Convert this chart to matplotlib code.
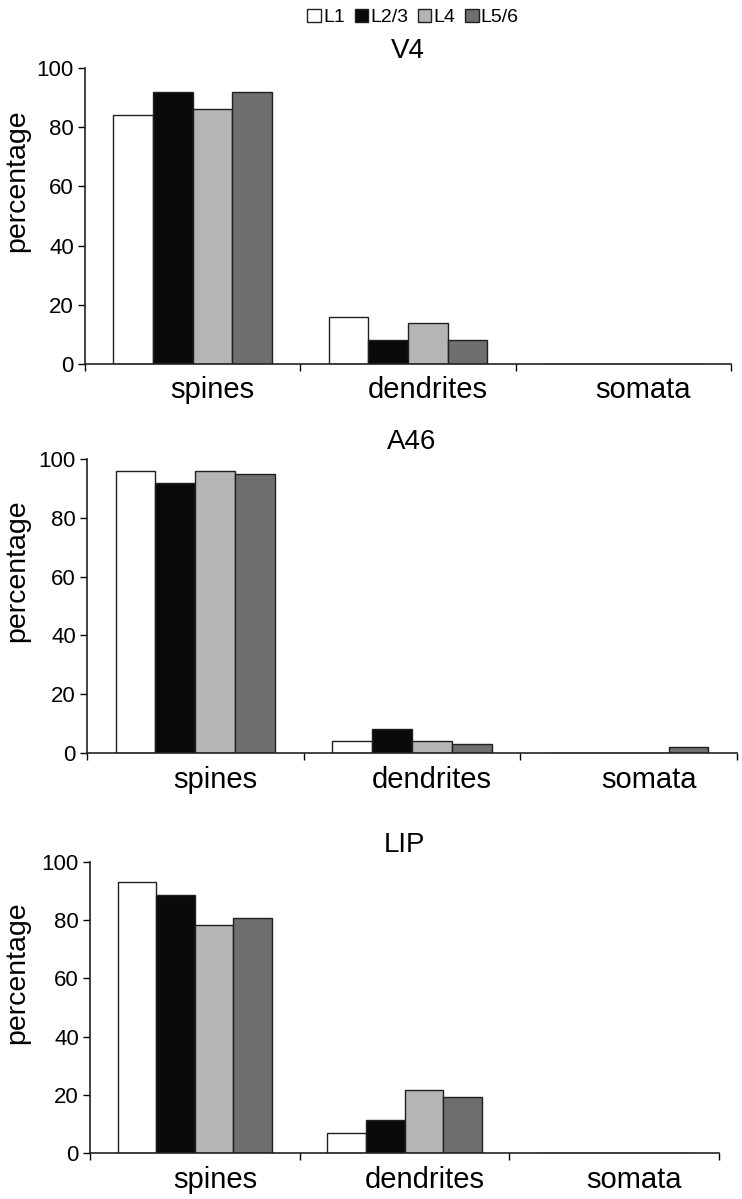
import matplotlib
matplotlib.use("Agg")
import matplotlib.pyplot as plt
import matplotlib.transforms as mtransforms
import numpy as np

plt.rcParams['font.family'] = ['Liberation Sans', 'DejaVu Sans']

categories = ["spines", "dendrites", "somata"]
layers = ["L1", "L2/3", "L4", "L5/6"]
colors = ["#ffffff", "#0a0a0a", "#b5b5b5", "#6e6e6e"]

# percentage per layer, for spines / dendrites / somata
v4 = {
    "L1": [84, 16, 0],
    "L2/3": [92, 8, 0],
    "L4": [86, 14, 0],
    "L5/6": [92, 8, 0],
}
a46 = {
    "L1": [96, 4, 0],
    "L2/3": [92, 8, 0],
    "L4": [96, 4, 0],
    "L5/6": [95, 3, 2],
}
lip = {
    "L1": [93.2, 6.8, 0],
    "L2/3": [88.8, 11.2, 0],
    "L4": [78.2, 21.8, 0],
    "L5/6": [80.7, 19.3, 0],
}
areas = ["V4", "A46", "LIP"]
area_data = [v4, a46, lip]

W, H = 742, 1199
fig = plt.figure(figsize=(W / 100, H / 100), dpi=100)

# axes boxes in pixels: left, right, y of 0, y of 100
boxes = [(85, 731, 364, 68), (87, 737, 753, 459), (90, 719, 1153, 862)]

bar_w = 0.184
x = np.arange(len(categories)) + 0.5

handles = []
for k, (name, data) in enumerate(zip(areas, area_data)):
    l, r, y0, y1 = boxes[k]
    ax = fig.add_axes([l / W, 1 - y0 / H, (r - l) / W, (y0 - y1) / H])
    for j, layer in enumerate(layers):
        b = ax.bar(x + (j - 1.5) * bar_w, data[layer], bar_w, color=colors[j],
                   edgecolor="#202020", linewidth=1.0, label=layer)
        if k == 0:
            handles.append(b)
    ax.set_xlim(0, 3)
    ax.set_ylim(0, 100)
    ax.set_yticks([0, 20, 40, 60, 80, 100])
    ax.tick_params(axis="y", labelsize=16, length=5, width=1, direction="out", pad=3)
    ax.set_xticks([0, 1, 2, 3])
    ax.set_xticklabels([])
    ax.tick_params(axis="x", which="major", length=5, width=1, direction="out")
    ax.set_xticks(x, minor=True)
    ax.set_xticklabels(categories, minor=True, fontsize=21)
    ax.tick_params(axis="x", which="minor", length=0, pad=9)
    off = mtransforms.ScaledTranslation(20 / 100, 0, fig.dpi_scale_trans)
    for lab in ax.get_xticklabels(minor=True):
        lab.set_transform(lab.get_transform() + off)
    for s in ["top", "right"]:
        ax.spines[s].set_visible(False)
    for s in ["left", "bottom"]:
        ax.spines[s].set_linewidth(1.2)
        ax.spines[s].set_color("#222222")
    ax.set_ylabel("percentage", fontsize=20.5)
    ax.yaxis.set_label_coords((30 - l) / (r - l), 0.62)
    ax.set_title(name, fontsize=20, pad=7)

fig.legend(handles=handles, labels=layers, loc="upper center",
           bbox_to_anchor=(413 / W, 1.0), ncol=4, frameon=False,
           fontsize=14, handlelength=0.7, handleheight=0.7,
           handletextpad=0.1, columnspacing=0.5, borderaxespad=0.05)

fig.savefig("out.png", dpi=100)
